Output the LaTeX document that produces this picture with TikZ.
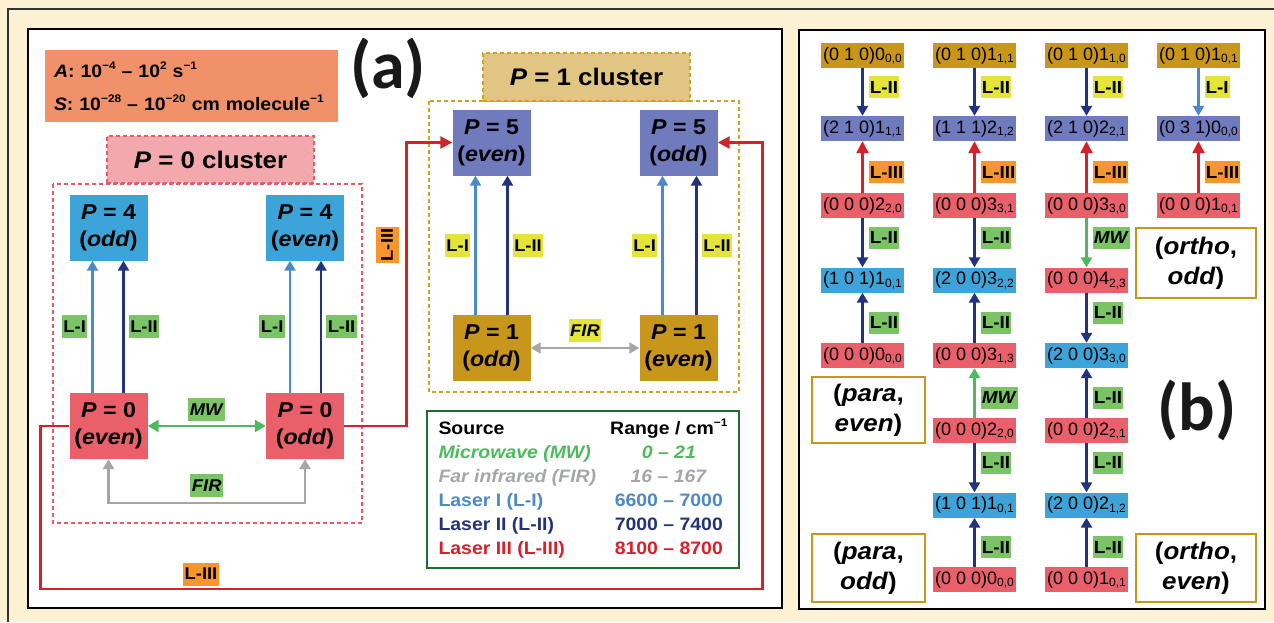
\documentclass[tikz,border=0pt]{standalone}
\usepackage{fontspec}
\setmainfont{Liberation Sans}[BoldFeatures={FakeStretch=1.08},BoldItalicFeatures={FakeStretch=1.08}]
\newfontfamily\panelfont{Carlito}
\usetikzlibrary{arrows.meta}

\definecolor{cream}{HTML}{FCF1D2}
\definecolor{pzero}{HTML}{E9606B}
\definecolor{pfour}{HTML}{3CA4D8}
\definecolor{pfive}{HTML}{6F7BBD}
\definecolor{pone}{HTML}{C9961C}
\definecolor{lgreen}{HTML}{7BC465}
\definecolor{lyellow}{HTML}{E4E43A}
\definecolor{lorange}{HTML}{F7962E}
\definecolor{salmon}{HTML}{F19169}
\definecolor{laserone}{HTML}{4D88C9}
\definecolor{lasertwo}{HTML}{23327E}
\definecolor{laserthree}{HTML}{D7202A}
\definecolor{mwgreen}{HTML}{4CBB5C}
\definecolor{firgray}{HTML}{A4A6AA}
\definecolor{tabgreen}{HTML}{1F6B33}
\definecolor{clred}{HTML}{E85A66}
\definecolor{clgold}{HTML}{D4A020}

\newcommand\sups[1]{\raisebox{0.42em}{\fontsize{11}{11}\selectfont#1}}
\newcommand\subs[1]{\raisebox{-2.5pt}{\fontsize{12}{12}\selectfont#1}}

\tikzset{
  state/.style={minimum width=78pt, minimum height=66pt, inner sep=0pt, align=center,
    font=\fontsize{21.5}{27}\selectfont\bfseries},
  lvl/.style={minimum width=83pt, minimum height=25pt, inner sep=0pt,
    font=\fontsize{18}{18}\selectfont},
  lbl/.style={inner xsep=1.5pt, inner ysep=0pt, minimum height=23pt,
    font=\fontsize{17}{17}\selectfont\bfseries},
  blbl/.style={inner xsep=1pt, inner ysep=0pt, minimum height=22pt,
    font=\fontsize{17.5}{17.5}\selectfont\bfseries},
  tip/.style={-{Triangle[length=10pt,width=11pt]}},
  lone/.style={tip, draw=laserone, line width=2.2pt},
  ltwo/.style={tip, draw=lasertwo, line width=2.5pt},
  lthree/.style={-{Triangle[length=12pt,width=12pt]}, draw=laserthree, line width=2.6pt},
  mw/.style={draw=mwgreen, line width=2.5pt},
  fir/.style={draw=firgray, line width=2.5pt},
  clframe/.style={line width=2.5pt, dash pattern=on 4pt off 3pt},
  cllabel/.style={line width=2.5pt, dash pattern=on 4pt off 3pt, inner sep=0pt,
    font=\fontsize{24}{24}\selectfont\bfseries},
  parity/.style={draw=pone, line width=2pt, fill=white, align=center, inner sep=0pt,
    font=\fontsize{24}{30}\selectfont\bfseries},
  panel/.style={font=\panelfont\bfseries\fontsize{68}{68}\selectfont, text=black!90}
}

\begin{document}
\begin{tikzpicture}[x=1pt,y=-1pt]
\useasboundingbox (0,0) rectangle (1274,622);
\fill[cream] (0,0) rectangle (1274,622);
\draw[line width=1.5pt, black!80] (1274,9) -- (8,9) -- (8,622);
\draw[line width=2pt, fill=white] (28,29) rectangle (782,608);
\draw[line width=2pt, fill=white] (799,30) rectangle (1265,609);

% (a)
\node[fill=salmon, minimum width=293pt, minimum height=72pt, text width=275pt, align=left,
  inner sep=0pt, font=\fontsize{18}{33}\selectfont\bfseries] (rates) at (191.5,86)
  {\textit{A}: 10\sups{−4} – 10\sups{2} s\sups{−1}\\\textit{S}: 10\sups{−28} – 10\sups{−20} cm molecule\sups{−1}};
\node[panel] (alabel) at (388,68) {(a)};

\draw[clframe, clred] (53,184) rectangle (362,523);
\node[cllabel, draw=clred, fill=pzero!55, minimum width=207pt, minimum height=47pt] (czero) at (210.5,159.5) {\textit{P} = 0 cluster};
\draw[clframe, clgold] (429,101) rectangle (739,392);
\node[cllabel, draw=clgold, fill=pone!55, minimum width=207pt, minimum height=48pt] (cone) at (586.5,77) {\textit{P} = 1 cluster};

\node[state, fill=pfour] (p4o) at (108.5,227.5) {\textit{P} = 4\\(\textit{odd})};
\node[state, fill=pfour] (p4e) at (305,227.5) {\textit{P} = 4\\(\textit{even})};
\node[state, fill=pzero] (p0e) at (108.5,426) {\textit{P} = 0\\(\textit{even})};
\node[state, fill=pzero] (p0o) at (305,426) {\textit{P} = 0\\(\textit{odd})};
\node[state, fill=pfive] (p5e) at (491.5,142.5) {\textit{P} = 5\\(\textit{even})};
\node[state, fill=pfive] (p5o) at (678.5,142.5) {\textit{P} = 5\\(\textit{odd})};
\node[state, fill=pone] (p1o) at (491.5,348) {\textit{P} = 1\\(\textit{odd})};
\node[state, fill=pone] (p1e) at (678.5,348) {\textit{P} = 1\\(\textit{even})};

\draw[lone] ([xshift=-16pt]p0e.north) -- node[lbl, fill=lgreen, left=4pt] (a1) {L-I} ([xshift=-16pt]p4o.south);
\draw[ltwo] ([xshift=15pt]p0e.north) -- node[lbl, fill=lgreen, right=4pt] (a2) {L-II} ([xshift=15pt]p4o.south);
\draw[lone] ([xshift=-15pt]p0o.north) -- node[lbl, fill=lgreen, left=4pt] (a3) {L-I} ([xshift=-15pt]p4e.south);
\draw[ltwo] ([xshift=16pt]p0o.north) -- node[lbl, fill=lgreen, right=4pt] (a4) {L-II} ([xshift=16pt]p4e.south);
\draw[mw, {Triangle[length=11pt,width=12pt]}-{Triangle[length=11pt,width=12pt]}] (p0e) -- node[lbl, fill=lgreen, above=4pt] (a5) {\textit{MW}} (p0o);
\draw[fir, {Triangle[length=10pt,width=11pt]}-{Triangle[length=10pt,width=11pt]}] (p0e.south) -- ++(0,44) -| node[pos=.25, lbl, fill=lgreen, above=5pt] (a6) {\textit{FIR}} (p0o.south);

\draw[lone] ([xshift=-16pt]p1o.north) -- node[lbl, fill=lyellow, left=4pt] (a7) {L-I} ([xshift=-16pt]p5e.south);
\draw[ltwo] ([xshift=16pt]p1o.north) -- node[lbl, fill=lyellow, right=4pt] (a8) {L-II} ([xshift=16pt]p5e.south);
\draw[lone] ([xshift=-16pt]p1e.north) -- node[lbl, fill=lyellow, left=4pt] (a9) {L-I} ([xshift=-16pt]p5o.south);
\draw[ltwo] ([xshift=18pt]p1e.north) -- node[lbl, fill=lyellow, right=4pt] (a10) {L-II} ([xshift=18pt]p5o.south);
\draw[fir, {Triangle[length=10pt,width=11pt]}-{Triangle[length=10pt,width=11pt]}] (p1o) -- node[lbl, fill=lyellow, above=5pt] (a11) {\textit{FIR}} (p1e);

\draw[lthree] (p0o.east) -- ++(62.5,0) |- (p5e.west);
\draw[lthree] (p0e.west) -- ++(-29,0) -- ++(0,163) -- ++(722,0) |- (p5o.east);
\node[lbl, fill=lorange, rotate=90] (a12) at (387,245) {L-III};
\node[lbl, fill=lorange] (a13) at (201,574) {L-III};

\node[draw=tabgreen, line width=2pt, fill=white, minimum width=312pt, minimum height=157pt, inner sep=0pt,
  font=\fontsize{18}{24}\selectfont\bfseries] (legend) at (583,489.5)
  {\begin{tabular}{@{}l@{\hspace{14pt}}c@{}}
   Source & Range / cm\sups{−1}\\
   \color{mwgreen}\textit{Microwave (MW)} & \color{mwgreen}\textit{0 – 21}\\
   \color{firgray}\textit{Far infrared (FIR)} & \color{firgray}\textit{16 – 167}\\
   \color{laserone}Laser I (L-I) & \color{laserone}6600 – 7000\\
   \color{lasertwo}Laser II (L-II) & \color{lasertwo}7000 – 7400\\
   \color{laserthree}Laser III (L-III) & \color{laserthree}8100 – 8700
   \end{tabular}};

% (b)
\node[lvl, fill=pone] (c1r1) at (862.5,55.5) {(0 1 0)0\subs{0,0}};
\node[lvl, fill=pfive] (c1r2) at (862.5,128.5) {(2 1 0)1\subs{1,1}};
\node[lvl, fill=pzero] (c1r3) at (862.5,205.5) {(0 0 0)2\subs{2,0}};
\node[lvl, fill=pfour] (c1r4) at (862.5,280) {(1 0 1)1\subs{0,1}};
\node[lvl, fill=pzero] (c1r5) at (862.5,355.5) {(0 0 0)0\subs{0,0}};

\node[lvl, fill=pone] (c2r1) at (974.5,55.5) {(0 1 0)1\subs{1,1}};
\node[lvl, fill=pfive] (c2r2) at (974.5,128.5) {(1 1 1)2\subs{1,2}};
\node[lvl, fill=pzero] (c2r3) at (974.5,205.5) {(0 0 0)3\subs{3,1}};
\node[lvl, fill=pfour] (c2r4) at (974.5,280) {(2 0 0)3\subs{2,2}};
\node[lvl, fill=pzero] (c2r5) at (974.5,355.5) {(0 0 0)3\subs{1,3}};
\node[lvl, fill=pzero] (c2r6) at (974.5,430.5) {(0 0 0)2\subs{2,0}};
\node[lvl, fill=pfour] (c2r7) at (974.5,505) {(1 0 1)1\subs{0,1}};
\node[lvl, fill=pzero] (c2r8) at (974.5,579.5) {(0 0 0)0\subs{0,0}};

\node[lvl, fill=pone] (c3r1) at (1086.5,55.5) {(0 1 0)1\subs{1,0}};
\node[lvl, fill=pfive] (c3r2) at (1086.5,128.5) {(2 1 0)2\subs{2,1}};
\node[lvl, fill=pzero] (c3r3) at (1086.5,205.5) {(0 0 0)3\subs{3,0}};
\node[lvl, fill=pzero] (c3r4) at (1086.5,280) {(0 0 0)4\subs{2,3}};
\node[lvl, fill=pfour] (c3r5) at (1086.5,355.5) {(2 0 0)3\subs{3,0}};
\node[lvl, fill=pzero] (c3r6) at (1086.5,430.5) {(0 0 0)2\subs{2,1}};
\node[lvl, fill=pfour] (c3r7) at (1086.5,505) {(2 0 0)2\subs{1,2}};
\node[lvl, fill=pzero] (c3r8) at (1086.5,579.5) {(0 0 0)1\subs{0,1}};

\node[lvl, fill=pone] (c4r1) at (1198.5,55.5) {(0 1 0)1\subs{0,1}};
\node[lvl, fill=pfive] (c4r2) at (1198.5,128.5) {(0 3 1)0\subs{0,0}};
\node[lvl, fill=pzero] (c4r3) at (1198.5,205.5) {(0 0 0)1\subs{0,1}};

\draw[ltwo] (c1r1) -- node[blbl, fill=lyellow, pos=.4, right=5pt] (b1) {L-II} (c1r2);
\draw[lthree] (c1r3) -- node[blbl, fill=lorange, pos=.4, right=5pt] (b2) {L-III} (c1r2);
\draw[ltwo] (c1r3) -- node[blbl, fill=lgreen, pos=.4, right=5pt] (b3) {L-II} (c1r4);
\draw[ltwo] (c1r5) -- node[blbl, fill=lgreen, pos=.4, right=5pt] (b4) {L-II} (c1r4);

\draw[ltwo] (c2r1) -- node[blbl, fill=lyellow, pos=.4, right=5pt] (b5) {L-II} (c2r2);
\draw[lthree] (c2r3) -- node[blbl, fill=lorange, pos=.4, right=5pt] (b6) {L-III} (c2r2);
\draw[ltwo] (c2r3) -- node[blbl, fill=lgreen, pos=.4, right=5pt] (b7) {L-II} (c2r4);
\draw[ltwo] (c2r5) -- node[blbl, fill=lgreen, pos=.4, right=5pt] (b8) {L-II} (c2r4);
\draw[mw, tip] (c2r6) -- node[blbl, fill=lgreen, pos=.4, right=5pt] (b9) {\textit{MW}} (c2r5);
\draw[ltwo] (c2r6) -- node[blbl, fill=lgreen, pos=.4, right=5pt] (b10) {L-II} (c2r7);
\draw[ltwo] (c2r8) -- node[blbl, fill=lgreen, pos=.4, right=5pt] (b11) {L-II} (c2r7);

\draw[ltwo] (c3r1) -- node[blbl, fill=lyellow, pos=.4, right=5pt] (b12) {L-II} (c3r2);
\draw[lthree] (c3r3) -- node[blbl, fill=lorange, pos=.4, right=5pt] (b13) {L-III} (c3r2);
\draw[mw, tip] (c3r3) -- node[blbl, fill=lgreen, pos=.4, right=5pt] (b14) {\textit{MW}} (c3r4);
\draw[ltwo] (c3r4) -- node[blbl, fill=lgreen, pos=.4, right=5pt] (b15) {L-II} (c3r5);
\draw[ltwo] (c3r6) -- node[blbl, fill=lgreen, pos=.4, right=5pt] (b16) {L-II} (c3r5);
\draw[ltwo] (c3r6) -- node[blbl, fill=lgreen, pos=.4, right=5pt] (b17) {L-II} (c3r7);
\draw[ltwo] (c3r8) -- node[blbl, fill=lgreen, pos=.4, right=5pt] (b18) {L-II} (c3r7);

\draw[lone] (c4r1) -- node[blbl, fill=lyellow, pos=.4, right=5pt] (b19) {L-I} (c4r2);
\draw[lthree] (c4r3) -- node[blbl, fill=lorange, pos=.4, right=5pt] (b20) {L-III} (c4r2);

\node[parity, minimum width=120pt, minimum height=70pt] (oodd) at (1196,263) {(\textit{ortho},\\\textit{odd})};
\node[parity, minimum width=113pt, minimum height=66pt] (peven) at (868.5,410) {(\textit{para},\\\textit{even})};
\node[parity, minimum width=113pt, minimum height=68pt] (podd) at (868.5,568) {(\textit{para},\\\textit{odd})};
\node[parity, minimum width=120pt, minimum height=68pt] (oeven) at (1196,568) {(\textit{ortho},\\\textit{even})};
\node[panel] (blabel) at (1197,410) {(b)};
\end{tikzpicture}
\end{document}
